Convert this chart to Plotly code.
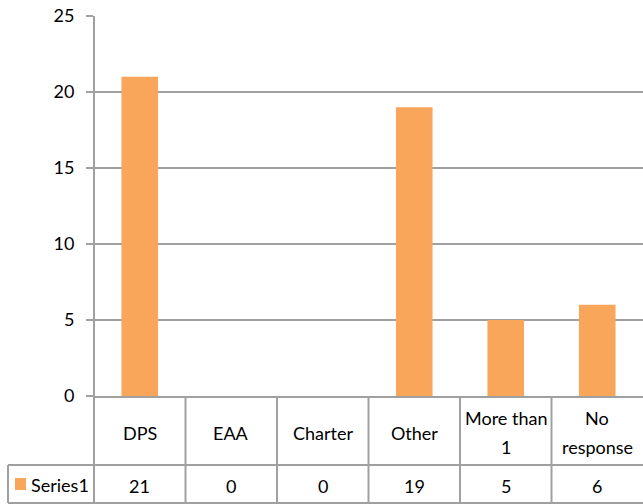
import plotly.graph_objects as go

categories = ["DPS", "EAA", "Charter", "Other", "More than<br>1", "No<br>response"]
values = [21, 0, 0, 19, 5, 6]
series_name = "Series1"
y_ticks = [0, 5, 10, 15, 20, 25]

W, H = 643, 504
L, T, B = 94, 16, 108
plot_h = H - T - B
plot_w = W - L

def py(px):
    return (H - B - px) / plot_h

def pxx(px):
    return (px - L) / plot_w

bar_color = "#F9A65A"
line_color = "#A0A0A0"
font_family = "Lato, Liberation Sans, Arial, sans-serif"
fsize = 18

fig = go.Figure()
fig.add_trace(go.Bar(x=list(range(len(categories))), y=values, name=series_name,
                     marker=dict(color=bar_color, line=dict(width=0)), width=0.4,
                     hoverinfo="skip"))

n = len(categories)
shapes = []
row_split = py(465)
row_bottom = py(503)
# vertical table lines
for k in range(0, n):
    shapes.append(dict(type="line", xref="paper", yref="paper", x0=k / n, x1=k / n,
                       y0=0 if k > 0 else 1, y1=row_bottom, line=dict(color=line_color, width=2)))
# horizontal table lines
for yy in (row_split, row_bottom):
    shapes.append(dict(type="line", xref="paper", yref="paper", x0=pxx(8), x1=1,
                       y0=yy, y1=yy, line=dict(color=line_color, width=2)))
shapes.append(dict(type="line", xref="paper", yref="paper", x0=pxx(8), x1=pxx(8),
                   y0=row_split, y1=row_bottom, line=dict(color=line_color, width=2)))
# legend key
shapes.append(dict(type="rect", xref="paper", yref="paper", x0=pxx(15), x1=pxx(26),
                   y0=py(490), y1=py(478), fillcolor=bar_color, line=dict(width=0)))

annotations = []
for i, (c, v) in enumerate(zip(categories, values)):
    lines = c.split("<br>")
    if len(lines) == 1:
        annotations.append(dict(x=i, xref="x", y=py(433), yref="paper", text=lines[0],
                                showarrow=False, yanchor="middle", xanchor="center"))
    else:
        for j, ln in enumerate(lines):
            annotations.append(dict(x=i, xref="x", y=py(418 + 29 * j), yref="paper", text=ln,
                                    showarrow=False, yanchor="middle", xanchor="center"))
    annotations.append(dict(x=i, xref="x", y=py(486), yref="paper", text=str(v),
                            showarrow=False, yanchor="middle", xanchor="center"))
annotations.append(dict(x=pxx(29), xref="paper", y=py(485), yref="paper", text=series_name,
                        showarrow=False, yanchor="middle", xanchor="left"))

fig.update_layout(
    width=W, height=H,
    margin=dict(l=L, r=0, t=T, b=B, pad=0),
    paper_bgcolor="white", plot_bgcolor="white",
    showlegend=False,
    font=dict(family=font_family, size=fsize, color="#000000"),
    bargap=0.6,
    xaxis=dict(range=[-0.5, n - 0.5], showticklabels=False, showgrid=False, zeroline=False,
               showline=True, linecolor=line_color, linewidth=2, ticks=""),
    yaxis=dict(range=[0, 25], tickvals=y_ticks, showgrid=True, gridcolor=line_color, gridwidth=2,
               zeroline=False, showline=False, ticks="outside", ticklen=7, tickwidth=2,
               tickcolor=line_color, ticklabelstandoff=8,
               tickfont=dict(family=font_family, size=fsize, color="#000000")),
    shapes=shapes,
    annotations=annotations,
)

fig.write_html("out.html", config={"displayModeBar": False},
               post_script="document.body.style.margin='0';document.body.style.overflow='hidden';")
